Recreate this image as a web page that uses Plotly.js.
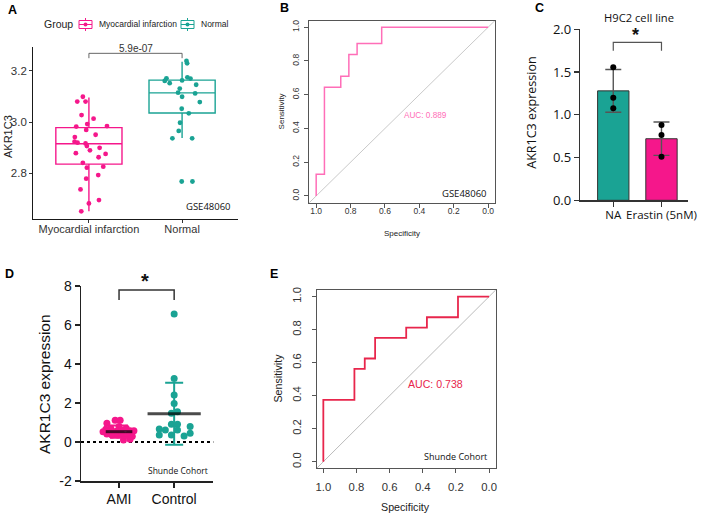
<!DOCTYPE html>
<html><head><meta charset="utf-8">
<script src="https://cdn.plot.ly/plotly-3.0.1.min.js"></script>
<style>body{margin:0;background:#fff}#chart{width:708px;height:516px}</style>
</head><body><div id="chart"></div>
<script>
// ---------- Panel A data ----------
const groupsA = ['Myocardial infarction', 'Normal'];
const miValues = [3.099,3.080,3.080,3.027,3.013,2.982,2.992,2.984,2.969,2.950,2.941,2.923,2.919,2.916,2.906,2.899,2.889,2.878,2.875,2.862,2.840,2.821,2.825,2.792,2.778,2.736,2.694,2.681,2.650];
const miJitter = [-0.065,-0.125,-0.036,-0.079,0.050,-0.136,-0.018,0.194,-0.029,0.072,-0.151,-0.154,-0.122,-0.036,-0.022,0.115,0.011,-0.140,0.179,0.104,-0.065,-0.022,0.154,0.100,-0.029,-0.090,0.108,0.000,-0.082];
const nValues = [3.239,3.230,3.171,3.161,3.175,3.170,3.152,3.163,3.146,3.131,3.115,3.112,3.099,3.078,3.052,3.034,2.997,2.965,2.936,2.936,2.767,2.767];
const nJitter = [0.047,0.054,-0.168,-0.186,0.057,0.090,-0.133,0.000,0.151,-0.025,-0.043,0.140,0.000,0.190,-0.004,0.072,-0.022,-0.036,-0.104,0.108,-0.004,0.111];
const boxQ1 = [2.835, 3.035];
const boxMedian = [2.915, 3.114];
const boxQ3 = [2.978, 3.164];
const boxLower = [2.650, 2.937];
const boxUpper = [3.096, 3.236];
const pValueA = '5.9e-07';
const datasetA = 'GSE48060';

// ---------- Panel B data ----------
const rocBSpec = [1, 1, 0.952, 0.952, 0.857, 0.857, 0.810, 0.810, 0.762, 0.762, 0.619, 0.619, 0];
const rocBSens = [0, 0.129, 0.129, 0.645, 0.645, 0.710, 0.710, 0.839, 0.839, 0.903, 0.903, 1, 1];
const aucB = 'AUC: 0.889';
const rocTicks = [0, 0.2, 0.4, 0.6, 0.8, 1.0];

// ---------- Panel C data ----------
const catsC = ['NA', 'Erastin (5nM)'];
const meanC = [1.28, 0.72];
const sdC = [0.25, 0.195];
const ptsNA = [1.556, 1.200, 1.076];
const ptsErastin = [0.881, 0.764, 0.510];
const yTicksC = [0, 0.5, 1.0, 1.5, 2.0];

// ---------- Panel D data ----------
const catsD = ['AMI', 'Control'];
const amiValues = [1.12,1.12,0.96,0.80,0.70,0.70,0.65,0.60,0.58,0.58,0.55,0.53,0.50,0.41,0.36,0.36,0.36,0.34,0.30,0.14,0.10];
const amiJitter = [-0.07,0.02,-0.22,0.00,-0.15,0.13,-0.24,0.04,0.20,0.27,-0.05,-0.29,-0.11,-0.22,-0.13,-0.02,0.07,0.15,0.24,0.20,0.08];
const ctlValues = [6.56,3.26,2.41,1.98,1.55,1.47,0.91,0.91,0.79,0.67,0.62,0.62,0.45,0.36,0.36,0.31];
const ctlJitter = [0,0,0,0,0.06,-0.05,-0.05,0.06,0.29,-0.27,-0.16,0.06,0.29,-0.27,-0.05,0.18];
const meanD = [0.53, 1.45];
const sdD = [0.31, 1.59];
const yTicksD = [-2, 0, 2, 4, 6, 8];
const yTickTextD = ['-2', '0', '2', '4', '6', '8'];

// ---------- Panel E data ----------
const rocESpec = [1,1,0.8125,0.8125,0.75,0.75,0.6875,0.6875,0.5,0.5,0.375,0.375,0.1875,0.1875,0];
const rocESens = [0,0.375,0.375,0.5625,0.5625,0.625,0.625,0.75,0.75,0.8125,0.8125,0.875,0.875,1,1];
const aucE = 'AUC: 0.738';
const cohortE = 'Shunde Cohort';

// ---------- styling ----------
const W = 708, H = 516;
const pink = '#f5178b', teal = '#1aa394';
const rocPink = '#ff6eb8', rocRed = '#e8264c';
const arial = 'Liberation Sans, Arial, sans-serif';
const open = 'Open Sans, sans-serif';
const dx = (a, b) => [a / W, b / W];
const dy = (top, bottom) => [1 - bottom / H, 1 - top / H];
const px = x => x / W, py = y => 1 - y / H;

const traces = [];
// Panel A boxes
[0, 1].forEach(i => {
  traces.push({
    type: 'box', xaxis: 'x', yaxis: 'y', x: [i + 1],
    q1: [boxQ1[i]], median: [boxMedian[i]], q3: [boxQ3[i]],
    lowerfence: [boxLower[i]], upperfence: [boxUpper[i]],
    width: 0.71, whiskerwidth: 0, boxpoints: false,
    line: {color: i === 0 ? pink : teal, width: 1.4},
    fillcolor: 'rgba(255,255,255,0)', hoverinfo: 'skip', showlegend: false
  });
});
traces.push({type: 'scatter', mode: 'markers', xaxis: 'x', yaxis: 'y',
  x: miValues.map((v, i) => 1 + miJitter[i]), y: miValues,
  marker: {color: pink, size: 4.8}, showlegend: false, hoverinfo: 'skip'});
traces.push({type: 'scatter', mode: 'markers', xaxis: 'x', yaxis: 'y',
  x: nValues.map((v, i) => 2 + nJitter[i]), y: nValues,
  marker: {color: teal, size: 4.8}, showlegend: false, hoverinfo: 'skip'});
// bracket A
const brA = 3.269, dropA = 0.019;
traces.push({type: 'scatter', mode: 'lines', xaxis: 'x', yaxis: 'y',
  x: [1, 1, 2, 2], y: [brA - dropA, brA, brA, brA - dropA],
  line: {color: '#555', width: 0.9}, showlegend: false, hoverinfo: 'skip'});

// Panel B ROC
traces.push({type: 'scatter', mode: 'lines', xaxis: 'x2', yaxis: 'y2',
  x: rocBSpec, y: rocBSens, line: {color: rocPink, width: 1.5},
  showlegend: false, hoverinfo: 'skip'});

// Panel C
traces.push({type: 'bar', xaxis: 'x3', yaxis: 'y3', x: [0, 1], y: meanC, width: 0.65,
  marker: {color: [teal, pink], line: {color: '#333', width: 1}},
  error_y: {type: 'data', array: sdC, color: '#555', thickness: 1.4, width: 8},
  showlegend: false, hoverinfo: 'skip'});
traces.push({type: 'scatter', mode: 'markers', xaxis: 'x3', yaxis: 'y3',
  x: ptsNA.map(() => 0).concat(ptsErastin.map(() => 1)), y: ptsNA.concat(ptsErastin),
  marker: {color: '#000', size: 6}, showlegend: false, hoverinfo: 'skip'});
const brC = 1.848, dropC = 0.1;
traces.push({type: 'scatter', mode: 'lines', xaxis: 'x3', yaxis: 'y3',
  x: [0, 0, 1, 1], y: [brC - dropC, brC, brC, brC - dropC],
  line: {color: '#555', width: 1.2}, showlegend: false, hoverinfo: 'skip'});

// Panel D
traces.push({type: 'scatter', mode: 'markers', xaxis: 'x4', yaxis: 'y4',
  x: amiValues.map((v, i) => 0 + amiJitter[i]), y: amiValues,
  marker: {color: pink, size: 7}, showlegend: false, hoverinfo: 'skip'});
traces.push({type: 'scatter', mode: 'markers', xaxis: 'x4', yaxis: 'y4',
  x: ctlValues.map((v, i) => 1 + ctlJitter[i]), y: ctlValues,
  marker: {color: teal, size: 7}, showlegend: false, hoverinfo: 'skip'});
[0, 1].forEach(i => {
  traces.push({type: 'scatter', mode: 'markers', xaxis: 'x4', yaxis: 'y4',
    x: [i], y: [meanD[i]], marker: {size: 1, color: 'rgba(0,0,0,0)'},
    error_y: {type: 'data', array: [sdD[i]], color: i === 0 ? pink : teal, thickness: 2, width: 9},
    showlegend: false, hoverinfo: 'skip'});
});
traces.push({type: 'scatter', mode: 'markers', xaxis: 'x4', yaxis: 'y4',
  x: [0, 1], y: meanD,
  marker: {symbol: 'line-ew', size: [19, 38], line: {color: '#000', width: 3}},
  showlegend: false, hoverinfo: 'skip'});
const brD = 7.8, dropD = 0.52;
traces.push({type: 'scatter', mode: 'lines', xaxis: 'x4', yaxis: 'y4',
  x: [0, 0, 1, 1], y: [brD - dropD, brD, brD, brD - dropD],
  line: {color: '#333', width: 1.5}, showlegend: false, hoverinfo: 'skip'});

// Panel E ROC
traces.push({type: 'scatter', mode: 'lines', xaxis: 'x5', yaxis: 'y5',
  x: rocESpec, y: rocESens, line: {color: rocRed, width: 1.8},
  showlegend: false, hoverinfo: 'skip'});

// ---------- axes ----------
const base = {showgrid: false, zeroline: false, fixedrange: true};
const rocAxis = (dom, fs, isY, anchor, standoff) => Object.assign({}, base, {
  domain: dom, anchor: anchor, range: isY ? [-0.04, 1.04] : [1.04, -0.04],
  tickvals: rocTicks, tickformat: '.1f', ticks: 'outside', ticklen: 4, tickcolor: '#555', tickwidth: 1,
  showline: true, mirror: true, linecolor: '#555', linewidth: 1, ticklabelstandoff: standoff,
  tickfont: {family: arial, size: fs, color: '#333'}, tickangle: isY ? -90 : 0
});

const layout = {
  width: W, height: H, margin: {l: 0, r: 0, t: 0, b: 0},
  paper_bgcolor: '#fff', plot_bgcolor: 'rgba(0,0,0,0)', showlegend: false,
  xaxis: Object.assign({}, base, {domain: dx(33, 238), anchor: 'y', range: [0.4, 2.6],
    tickvals: [1, 2], ticktext: groupsA, ticks: 'outside', ticklen: 3, tickcolor: '#333',
    showline: true, linecolor: '#000', linewidth: 0.9, ticklabelstandoff: -3,
    tickfont: {family: arial, size: 11, color: '#333'}}),
  yaxis: Object.assign({}, base, {domain: dy(46.7, 219), anchor: 'x', range: [2.62, 3.295],
    tickvals: [2.8, 3.0, 3.2], tickformat: '.1f', ticks: 'outside', ticklen: 3, tickcolor: '#333',
    showline: true, linecolor: '#000', linewidth: 0.9,
    tickfont: {family: arial, size: 11.5, color: '#333'}}),
  xaxis2: rocAxis(dx(309.3, 495), 8.5, false, 'y2', -4),
  yaxis2: rocAxis(dy(20.5, 202.7), 8.5, true, 'x2', 2),
  xaxis3: Object.assign({}, base, {domain: dx(580, 688), anchor: 'y3', range: [-0.69, 1.55],
    tickvals: [0, 1], ticktext: catsC, ticks: 'outside', ticklen: 5, tickcolor: '#333', tickwidth: 1.2,
    showline: true, linecolor: '#333', linewidth: 1.2, ticklabelstandoff: -1,
    tickfont: {family: open, size: 11.5, color: '#111'}}),
  yaxis3: Object.assign({}, base, {domain: dy(29.3, 200.3), anchor: 'x3', range: [0, 2],
    tickvals: yTicksC, tickformat: '.1f', ticks: 'outside', ticklen: 5, tickcolor: '#333', tickwidth: 1.2,
    showline: true, linecolor: '#333', linewidth: 1.2,
    tickfont: {family: open, size: 13, color: '#111'}}),
  xaxis4: Object.assign({}, base, {domain: dx(81, 213.3), anchor: 'y4', range: [-0.69, 1.71],
    tickvals: [0, 1], ticktext: catsD, ticks: 'outside', ticklen: 5, tickcolor: '#222', tickwidth: 1.5,
    showline: true, linecolor: '#222', linewidth: 1.5,
    tickfont: {family: arial, size: 14, color: '#111'}}),
  yaxis4: Object.assign({}, base, {domain: dy(286, 481), anchor: 'x4', range: [-2, 8],
    tickvals: yTicksD, ticktext: yTickTextD, ticks: 'outside', ticklen: 5, tickcolor: '#222', tickwidth: 1.5,
    showline: true, linecolor: '#222', linewidth: 1.5,
    tickfont: {family: arial, size: 14, color: '#111'}}),
  xaxis5: rocAxis(dx(316.7, 495.7), 11.3, false, 'y5', 4),
  yaxis5: rocAxis(dy(290, 468.3), 11.3, true, 'x5', 6),
  shapes: [
    {type: 'line', xref: 'x2 domain', yref: 'y2 domain', x0: 0, y0: 0, x1: 1, y1: 1, line: {color: '#bbb', width: 0.8}, layer: 'below'},
    {type: 'line', xref: 'x5 domain', yref: 'y5 domain', x0: 0, y0: 0, x1: 1, y1: 1, line: {color: '#aaa', width: 0.8}, layer: 'below'},
    {type: 'line', xref: 'x4 domain', yref: 'y4', x0: 0, x1: 1, y0: 0, y1: 0, line: {color: '#000', width: 2, dash: 'dot'}, layer: 'below'}
  ],
  annotations: []
};

// Legend A (manual)
const legItems = [{x: 79, c: pink, t: groupsA[0], tx: 97}, {x: 181, c: teal, t: groupsA[1], tx: 199}];
legItems.forEach(it => {
  const x0 = it.x, x1 = it.x + 13, xm = it.x + 6.5;
  layout.shapes.push({type: 'rect', xref: 'paper', yref: 'paper', x0: px(x0), x1: px(x1), y0: py(28.5), y1: py(20.5), line: {color: it.c, width: 1}, fillcolor: '#fff'});
  layout.shapes.push({type: 'line', xref: 'paper', yref: 'paper', x0: px(xm), x1: px(xm), y0: py(18), y1: py(20.5), line: {color: it.c, width: 1}});
  layout.shapes.push({type: 'line', xref: 'paper', yref: 'paper', x0: px(xm), x1: px(xm), y0: py(28.5), y1: py(31), line: {color: it.c, width: 1}});
  layout.shapes.push({type: 'line', xref: 'paper', yref: 'paper', x0: px(x0), x1: px(x1), y0: py(24.5), y1: py(24.5), line: {color: it.c, width: 1}});
  layout.shapes.push({type: 'circle', xref: 'paper', yref: 'paper', x0: px(xm - 2), x1: px(xm + 2), y0: py(26.5), y1: py(22.5), line: {width: 0}, fillcolor: it.c});
  layout.annotations.push({xref: 'paper', yref: 'paper', x: px(it.tx), y: py(24.5), xanchor: 'left', yanchor: 'middle', showarrow: false, text: it.t, font: {family: arial, size: 8.5, color: '#222'}});
});

const A = (text, x, y, o) => layout.annotations.push(Object.assign({
  xref: 'paper', yref: 'paper', x: px(x), y: py(y), text: text, showarrow: false,
  xanchor: 'center', yanchor: 'middle', font: {family: arial, size: 10, color: '#222'}}, o || {}));

A('Group', 58.5, 24.5, {font: {family: arial, size: 10.5, color: '#222'}});
const bold = {family: arial, size: 12.5, color: '#000'};
A('<b>A</b>', 12, 10, {font: bold});
A('<b>B</b>', 284, 8, {font: bold});
A('<b>C</b>', 539, 8, {font: bold});
A('<b>D</b>', 9, 273.5, {font: bold});
A('<b>E</b>', 274, 273.5, {font: bold});
// Panel A texts
A('AKR1C3', 8, 137, {textangle: -90, font: {family: arial, size: 11, color: '#222'}});
A(pValueA, 136, 48.3, {font: {family: arial, size: 10, color: '#333'}});
A(datasetA, 233.5, 206.7, {xanchor: 'right', font: {family: open, size: 9.5, color: '#111'}});
// Panel B texts
layout.annotations.push({xref: 'x2', yref: 'y2', x: 0.5, y: 0.477, xanchor: 'left', yanchor: 'middle', showarrow: false, text: aucB, font: {family: arial, size: 8.2, color: rocPink}});
A(datasetA, 488.5, 193.3, {xanchor: 'right', font: {family: open, size: 9.5, color: '#111'}});
A('Sensitivity', 281.7, 111.7, {textangle: -90, font: {family: arial, size: 8, color: '#222'}});
A('Specificity', 401.5, 233, {font: {family: arial, size: 8, color: '#222'}});
// Panel C texts
A('H9C2 cell line', 638.7, 17.3, {font: {family: open, size: 11.2, color: '#111'}});
A('<b>*</b>', 635.5, 35, {font: {family: arial, size: 18, color: '#111'}});
A('AKR1C3 expression', 531.7, 113, {textangle: -90, font: {family: open, size: 12.5, color: '#111'}});
// Panel D texts
A('<b>*</b>', 145, 281, {font: {family: arial, size: 20, color: '#111'}});
A('AKR1C3 expression', 44, 384, {textangle: -90, font: {family: arial, size: 15.5, color: '#111'}});
A(cohortE, 210, 470.7, {xanchor: 'right', font: {family: open, size: 8.5, color: '#111'}});
// Panel E texts
layout.annotations.push({xref: 'x5', yref: 'y5', x: 0.5, y: 0.473, xanchor: 'left', yanchor: 'middle', showarrow: false, text: aucE, font: {family: arial, size: 10.6, color: rocRed}});
A(cohortE, 489.3, 456, {xanchor: 'right', font: {family: open, size: 9, color: '#111'}});
A('Sensitivity', 278.3, 378.3, {textangle: -90, font: {family: arial, size: 10.7, color: '#222'}});
A('Specificity', 405.7, 506.7, {font: {family: arial, size: 10.7, color: '#222'}});

Plotly.newPlot('chart', traces, layout, {staticPlot: true, displayModeBar: false});
</script>
</body></html>
